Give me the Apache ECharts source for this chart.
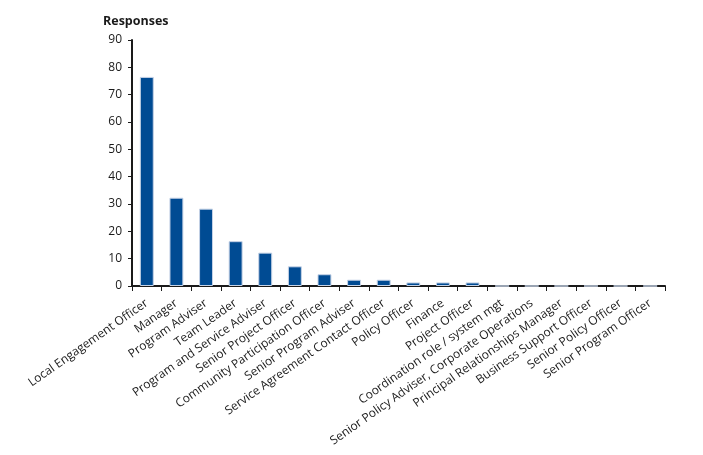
<!DOCTYPE html>
<html>
<head>
<meta charset="utf-8">
<script src="https://cdn.jsdelivr.net/npm/echarts@6/dist/echarts.min.js"></script>
<style>html,body{margin:0;padding:0;background:#fff;}#c{width:703px;height:455px;}</style>
</head>
<body>
<div id="c"></div>
<script>
const categories = [
  "Local Engagement Officer", "Manager", "Program Adviser", "Team Leader",
  "Program and Service Adviser", "Senior Project Officer", "Community Participation Officer",
  "Senior Program Adviser", "Service Agreement Contact Officer", "Policy Officer",
  "Finance", "Project Officer", "Coordination role / system mgt",
  "Senior Policy Adviser, Corporate Operations", "Principal Relationships Manager",
  "Business Support Officer", "Senior Policy Officer", "Senior Program Officer"
];
const responses = [76.5, 32.3, 28.3, 16.4, 12.2, 7.2, 4.3, 2.3, 2.3, 1.3, 1.3, 1.3, 0, 0, 0, 0, 0, 0];
const yTicks = { min: 0, max: 90, interval: 10 };
const yTitle = "Responses";

const chart = echarts.init(document.getElementById('c'), null, { renderer: 'canvas' });
chart.setOption({
  animation: false,
  backgroundColor: '#ffffff',
  title: {
    text: yTitle, left: 98, top: 10,
    textStyle: { fontFamily: 'Open Sans', fontSize: 12.5, fontWeight: 'bold', color: '#1a1a1a' }
  },
  grid: { left: 132, right: 38, top: 40, bottom: 169, containLabel: false },
  xAxis: {
    type: 'category', data: categories, boundaryGap: true,
    axisLine: { lineStyle: { color: '#1a1a1a', width: 2 } },
    axisTick: { show: true, length: 5, alignWithLabel: false, lineStyle: { color: '#1a1a1a', width: 1 } },
    axisLabel: {
      interval: 0, rotate: 35, margin: 16,
      fontFamily: 'Open Sans', fontSize: 12, color: '#1a1a1a'
    }
  },
  yAxis: {
    type: 'value', min: yTicks.min, max: yTicks.max, interval: yTicks.interval,
    splitLine: { show: false },
    axisLine: { show: true, lineStyle: { color: '#1a1a1a', width: 2 } },
    axisTick: { show: true, length: 4, lineStyle: { color: '#1a1a1a', width: 1 } },
    axisLabel: { margin: 10, fontFamily: 'Open Sans', fontSize: 12, color: '#1a1a1a' }
  },
  series: [{
    type: 'bar', data: responses, barWidth: '47%',
    itemStyle: { color: '#004b93', borderColor: '#c5d2e6', borderWidth: 1 }
  }]
});
</script>
</body>
</html>
